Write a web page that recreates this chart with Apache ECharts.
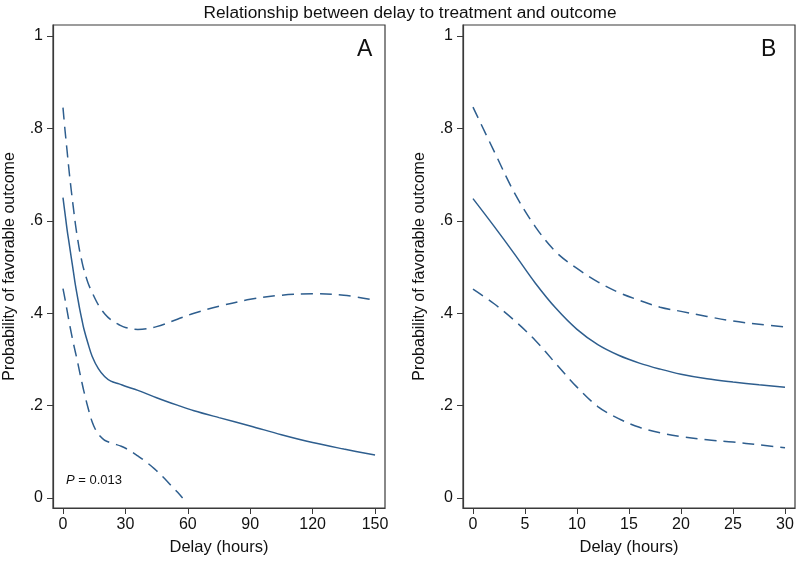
<!DOCTYPE html>
<html lang="en">
<head>
    <meta charset="UTF-8">
    <script src="https://cdn.jsdelivr.net/npm/echarts@6/dist/echarts.min.js"></script>
    <title>Delay to treatment and outcome</title>
    <style>
        html, body { margin: 0; padding: 0; background: #fff; }
        #main { width: 797px; height: 561px; }
    </style>
</head>
<body>
    <div id="main"></div>
    <script>
        // panel A: delay 0-150 h
        var aX = [0, 1, 2, 3, 4, 5, 6, 7, 8, 9, 10, 12, 14, 17, 20, 23, 27, 30, 36, 45, 55, 63, 75, 90, 105, 120, 135, 150];
        var aMid = [0.65, 0.615, 0.58, 0.55, 0.52, 0.49, 0.46, 0.435, 0.41, 0.388, 0.367, 0.335, 0.307, 0.28, 0.263, 0.253, 0.247, 0.242, 0.233, 0.217, 0.201, 0.189, 0.174, 0.156, 0.137, 0.12, 0.106, 0.093];
        var aUp = [0.845, 0.795, 0.75, 0.705, 0.665, 0.628, 0.592, 0.562, 0.535, 0.514, 0.495, 0.466, 0.445, 0.418, 0.399, 0.386, 0.375, 0.369, 0.365, 0.371, 0.387, 0.4, 0.415, 0.43, 0.439, 0.442, 0.439, 0.428];
        var aLoX = [0, 1, 2, 3, 4, 5, 6, 7, 8, 9, 10, 12, 14, 16, 18, 20, 24, 28, 32, 36, 40, 44, 48, 52, 55, 57.5];
        var aLo = [0.453, 0.43, 0.405, 0.38, 0.357, 0.335, 0.315, 0.295, 0.273, 0.252, 0.232, 0.196, 0.165, 0.145, 0.133, 0.125, 0.118, 0.112, 0.103, 0.091, 0.078, 0.063, 0.046, 0.027, 0.013, 0.0];

        // panel B: delay 0-30 h
        var bX = [0, 2, 4, 6, 8, 10, 12, 14, 16, 18, 20, 22.5, 25, 27.5, 30];
        var bMid = [0.648, 0.589, 0.528, 0.465, 0.41, 0.365, 0.332, 0.309, 0.292, 0.279, 0.268, 0.258, 0.251, 0.245, 0.24];
        var bUp = [0.846, 0.752, 0.66, 0.587, 0.532, 0.497, 0.468, 0.445, 0.428, 0.413, 0.404, 0.393, 0.383, 0.376, 0.37];
        var bLo = [0.452, 0.421, 0.384, 0.341, 0.29, 0.24, 0.198, 0.172, 0.153, 0.141, 0.133, 0.126, 0.121, 0.115, 0.109];

        var aTicks = [0, 30, 60, 90, 120, 150];
        var bTicks = [0, 5, 10, 15, 20, 25, 30];
        var yTicks = [0, 0.2, 0.4, 0.6, 0.8, 1];

        var font = 'Liberation Sans, Arial, sans-serif';
        var blue = '#2e5e8e';
        var boxColor = '#3a3a3a';

        function pairs(xs, ys) {
            return xs.map(function (x, i) { return [x, ys[i]]; });
        }

        function yLabel(v) {
            if (v === 0) return '0';
            if (v === 1) return '1';
            return v.toFixed(1).replace(/^0/, '');
        }

        function xAxis(idx, min, max, ticks) {
            return {
                type: 'value', gridIndex: idx, min: min, max: max,
                name: 'Delay (hours)', nameLocation: 'middle', nameGap: 31,
                nameTextStyle: { fontFamily: font, fontSize: 16.5, color: '#111' },
                splitLine: { show: false },
                axisLine: { show: true, onZero: false, lineStyle: { color: boxColor, width: 1.2 } },
                axisTick: { show: true, length: 6, customValues: ticks, lineStyle: { color: boxColor } },
                axisLabel: { customValues: ticks, margin: 9, fontFamily: font, fontSize: 16, color: '#111' }
            };
        }

        function yAxis(idx) {
            return {
                type: 'value', gridIndex: idx, min: -0.0216, max: 1.0238,
                name: 'Probability of favorable outcome', nameLocation: 'middle', nameGap: 35,
                nameTextStyle: { fontFamily: font, fontSize: 16, color: '#111' },
                splitLine: { show: false },
                axisLine: { show: true, onZero: false, lineStyle: { color: boxColor, width: 1.2 } },
                axisTick: { show: true, length: 6, customValues: yTicks, lineStyle: { color: boxColor } },
                axisLabel: { customValues: yTicks, margin: 10, formatter: yLabel, fontFamily: font, fontSize: 16, color: '#111' }
            };
        }

        function curve(idx, data, dashed) {
            return {
                type: 'line', xAxisIndex: idx, yAxisIndex: idx, data: data,
                showSymbol: false, smooth: 0.35, silent: true,
                lineStyle: { color: blue, width: 1.5, type: dashed ? [12, 7] : 'solid' }
            };
        }

        var chart = echarts.init(document.getElementById('main'));
        chart.setOption({
            animation: false,
            title: [
                { text: 'Relationship between delay to treatment and outcome', left: 405, top: 0, textAlign: 'center',
                  textStyle: { fontFamily: font, fontSize: 17.3, fontWeight: 'normal', color: '#111' } },
                { text: 'A', left: 352, top: 33, textStyle: { fontFamily: font, fontSize: 23, fontWeight: 'normal', color: '#111' } },
                { text: 'B', left: 756, top: 33, textStyle: { fontFamily: font, fontSize: 23, fontWeight: 'normal', color: '#111' } },
                { text: '{i|P} = 0.013', left: 61, top: 469,
                  textStyle: { fontFamily: font, fontSize: 13, fontWeight: 'normal', color: '#111',
                      rich: { i: { fontStyle: 'italic', fontFamily: font, fontSize: 13 } } } }
            ],
            grid: [
                { left: 53, top: 25, width: 332, height: 484, show: true, borderColor: boxColor, borderWidth: 1.2 },
                { left: 463, top: 25, width: 332, height: 484, show: true, borderColor: boxColor, borderWidth: 1.2 }
            ],
            xAxis: [xAxis(0, -4.8, 154.8, aTicks), xAxis(1, -0.96, 30.96, bTicks)],
            yAxis: [yAxis(0), yAxis(1)],
            series: [
                curve(0, pairs(aX, aMid), false),
                curve(0, pairs(aX, aUp), true),
                curve(0, pairs(aLoX, aLo), true),
                curve(1, pairs(bX, bMid), false),
                curve(1, pairs(bX, bUp), true),
                curve(1, pairs(bX, bLo), true)
            ]
        });
    </script>
</body>
</html>
